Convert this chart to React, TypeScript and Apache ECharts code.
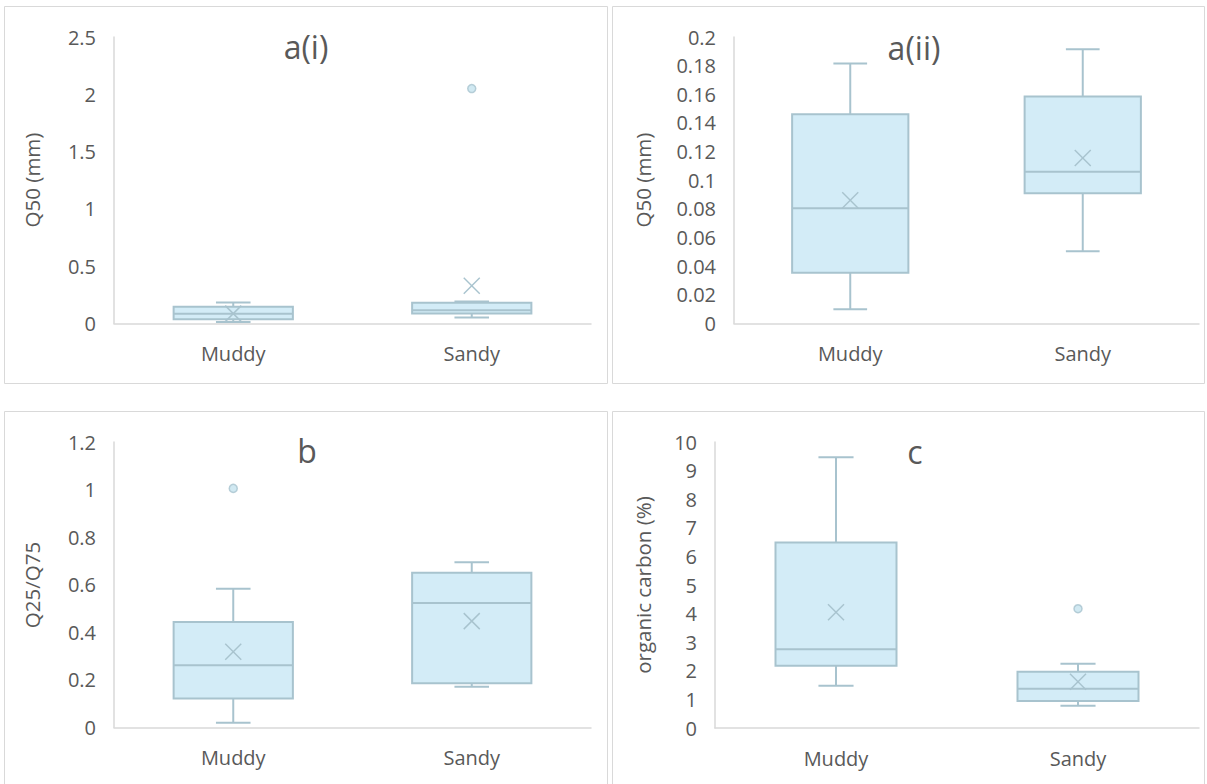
import React, { useEffect, useRef } from "react";
import * as echarts from "echarts";

const categories = ["Muddy", "Sandy"];

// [categoryIndex, min, Q1, median, Q3, max, mean]
const boxA1 = [
  [0, 0.012, 0.037, 0.085, 0.146, 0.183, 0.086],
  [1, 0.052, 0.088, 0.115, 0.182, 0.193, 0.33],
];
const outA1 = [[1, 2.05]];

const boxA2 = [
  [0, 0.01, 0.0355, 0.0805, 0.146, 0.1815, 0.086],
  [1, 0.0505, 0.091, 0.106, 0.1585, 0.1915, 0.1155],
];
const outA2: number[][] = [];

const boxB = [
  [0, 0.02, 0.122, 0.262, 0.443, 0.583, 0.318],
  [1, 0.171, 0.186, 0.523, 0.65, 0.695, 0.447],
];
const outB = [[0, 1.005]];

const boxC = [
  [0, 1.48, 2.18, 2.75, 6.49, 9.47, 4.05],
  [1, 0.78, 0.94, 1.37, 1.97, 2.25, 1.62],
];
const outC = [[1, 4.17]];

const yTicksA1 = { min: 0, max: 2.5, interval: 0.5 };
const yTicksA2 = { min: 0, max: 0.2, interval: 0.02 };
const yTicksB = { min: 0, max: 1.2, interval: 0.2 };
const yTicksC = { min: 0, max: 10, interval: 1 };

const titles = ["a(i)", "a(ii)", "b", "c"];
const yNames = ["Q50 (mm)", "Q50 (mm)", "Q25/Q75", "organic carbon (%)"];

const FONT = "'Open Sans', 'Noto Sans', sans-serif";
const TXT = "#595959";
const AXIS = "#d9d9d9";
const FILL = "#d3ecf7";
const STROKE = "#a8c3ce";

function renderBox(params: any, api: any) {
  const x = api.value(0);
  const pMin = api.coord([x, api.value(1)]);
  const pQ1 = api.coord([x, api.value(2)]);
  const pMed = api.coord([x, api.value(3)]);
  const pQ3 = api.coord([x, api.value(4)]);
  const pMax = api.coord([x, api.value(5)]);
  const pMean = api.coord([x, api.value(6)]);
  const cw = api.size([1, 0])[0];
  const bw = cw * 0.5;
  const capW = cw * 0.145;
  const cx = pMed[0];
  const lineStyle = { stroke: STROKE, lineWidth: 2 };
  const m = 8;
  return {
    type: "group",
    children: [
      { type: "line", shape: { x1: cx, y1: pQ3[1], x2: cx, y2: pMax[1] }, style: lineStyle },
      { type: "line", shape: { x1: cx, y1: pQ1[1], x2: cx, y2: pMin[1] }, style: lineStyle },
      { type: "line", shape: { x1: cx - capW / 2, y1: pMax[1], x2: cx + capW / 2, y2: pMax[1] }, style: lineStyle },
      { type: "line", shape: { x1: cx - capW / 2, y1: pMin[1], x2: cx + capW / 2, y2: pMin[1] }, style: lineStyle },
      {
        type: "rect",
        shape: { x: cx - bw / 2, y: pQ3[1], width: bw, height: pQ1[1] - pQ3[1] },
        style: { fill: FILL, stroke: STROKE, lineWidth: 2 },
      },
      { type: "line", shape: { x1: cx - bw / 2, y1: pMed[1], x2: cx + bw / 2, y2: pMed[1] }, style: lineStyle },
      { type: "line", shape: { x1: cx - m, y1: pMean[1] - m, x2: cx + m, y2: pMean[1] + m }, style: { stroke: STROKE, lineWidth: 1.5 } },
      { type: "line", shape: { x1: cx - m, y1: pMean[1] + m, x2: cx + m, y2: pMean[1] - m }, style: { stroke: STROKE, lineWidth: 1.5 } },
    ],
  };
}

export default function App() {
  const ref = useRef<HTMLDivElement>(null);
  useEffect(() => {
    if (!ref.current) return;
    const chart = echarts.init(ref.current, undefined, { renderer: "svg" });
    const grids = [
      { left: 114, top: 37, width: 477, height: 286.5 },
      { left: 734, top: 37, width: 465, height: 286.5 },
      { left: 114, top: 442, width: 477, height: 285.5 },
      { left: 715, top: 442, width: 484, height: 286 },
    ];
    const yCfg = [yTicksA1, yTicksA2, yTicksB, yTicksC];
    const boxes = [boxA1, boxA2, boxB, boxC];
    const outs = [outA1, outA2, outB, outC];
    const fmt = (v: number) => String(Math.round(v * 1000) / 1000);

    const xAxis = grids.map((_, i) => ({
      type: "category",
      gridIndex: i,
      data: categories,
      boundaryGap: true,
      axisLine: { show: true, lineStyle: { color: AXIS, width: 1.5 } },
      axisTick: { show: false },
      axisLabel: { margin: 20, fontSize: 20, color: TXT, fontFamily: FONT },
      splitLine: { show: false },
    }));
    const yAxis = grids.map((_, i) => ({
      type: "value",
      gridIndex: i,
      min: yCfg[i].min,
      max: yCfg[i].max,
      interval: yCfg[i].interval,
      axisLine: { show: true, lineStyle: { color: AXIS, width: 1.5 } },
      axisTick: { show: false },
      splitLine: { show: false },
      axisLabel: { margin: 18, fontSize: 20, color: TXT, fontFamily: FONT, formatter: fmt },
    }));
    const series: any[] = [];
    grids.forEach((_, i) => {
      series.push({
        type: "custom",
        xAxisIndex: i,
        yAxisIndex: i,
        renderItem: renderBox,
        encode: { x: 0, y: [1, 2, 3, 4, 5, 6] },
        data: boxes[i],
        z: 2,
      });
      series.push({
        type: "scatter",
        xAxisIndex: i,
        yAxisIndex: i,
        symbol: "circle",
        symbolSize: 8,
        itemStyle: { color: "#c6e3ef", borderColor: STROKE, borderWidth: 1.5 },
        data: outs[i],
        z: 3,
      });
    });

    const borderStyle = { fill: "none", stroke: AXIS, lineWidth: 1 };
    const titlePos = [
      [306, 46],
      [914, 47],
      [307, 450],
      [915, 451],
    ];
    const namePos = [
      [32, 180],
      [643, 180],
      [32, 585],
      [643, 585],
    ];
    const graphic: any[] = [
      { type: "rect", shape: { x: 4.5, y: 6.5, width: 603, height: 377 }, style: borderStyle, silent: true },
      { type: "rect", shape: { x: 612.5, y: 6.5, width: 592, height: 377 }, style: borderStyle, silent: true },
      { type: "rect", shape: { x: 4.5, y: 411.5, width: 603, height: 400 }, style: borderStyle, silent: true },
      { type: "rect", shape: { x: 612.5, y: 411.5, width: 592, height: 400 }, style: borderStyle, silent: true },
    ];
    titles.forEach((t, i) => {
      graphic.push({
        type: "text",
        x: titlePos[i][0],
        y: titlePos[i][1],
        style: { text: t, fontSize: 32, fill: TXT, fontFamily: FONT, textAlign: "center", textVerticalAlign: "middle" },
        silent: true,
      });
    });
    yNames.forEach((t, i) => {
      graphic.push({
        type: "text",
        x: namePos[i][0],
        y: namePos[i][1],
        rotation: Math.PI / 2,
        style: { text: t, fontSize: 20.5, fill: TXT, fontFamily: FONT, textAlign: "center", textVerticalAlign: "middle" },
        silent: true,
      });
    });

    chart.setOption({
      animation: false,
      backgroundColor: "#ffffff",
      grid: grids,
      xAxis,
      yAxis,
      series,
      graphic,
    });
    return () => chart.dispose();
  }, []);
  return (
    <div
      ref={ref}
      style={{ position: "fixed", left: 0, top: 0, width: 1207, height: 784, background: "#fff" }}
    />
  );
}
